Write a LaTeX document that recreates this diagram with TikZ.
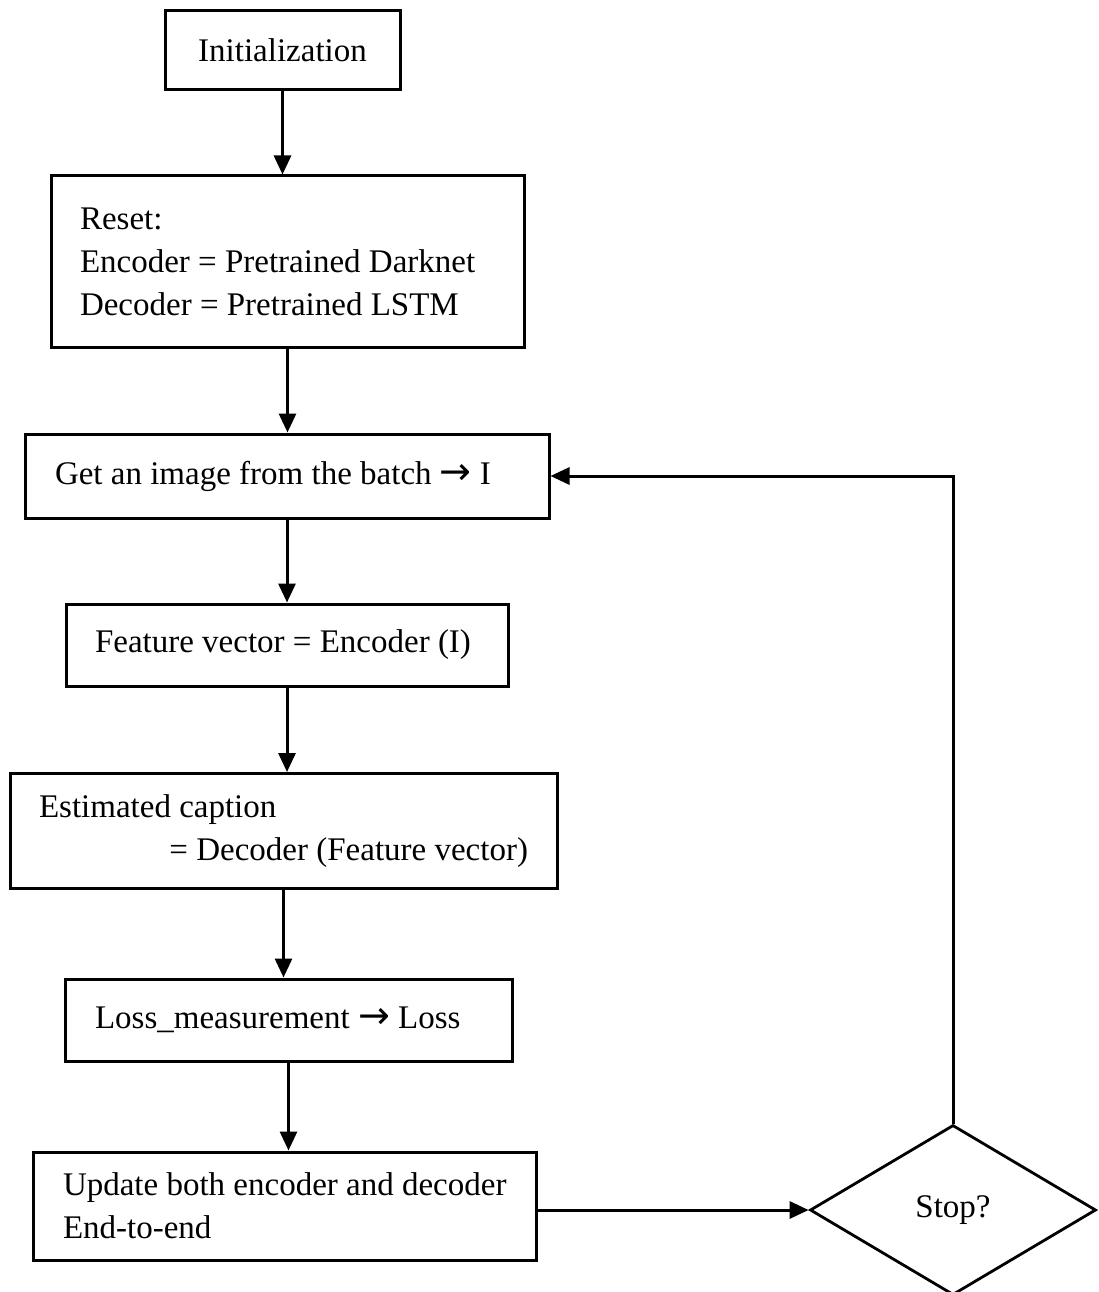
\documentclass[tikz,border=0pt]{standalone}
\usepackage{fontspec}
\setmainfont{Liberation Serif}
\newfontfamily\arrowfont{DejaVu Sans}[BoldFont=*]
\newcommand{\rarr}{{\arrowfont\bfseries\fontsize{38}{38}\selectfont →}}
% box text: 33pt serif; natural word spacing of the font
\newcommand{\boxfont}{\fontsize{33}{43}\selectfont}
\newcommand{\natspace}{\spaceskip=0pt\xspaceskip=0pt\relax}
\usetikzlibrary{shapes.geometric,arrows.meta}
\begin{document}
\begin{tikzpicture}[x=1pt,y=-1pt,
  box/.style={draw,line width=3pt,rectangle,inner ysep=0pt,font=\boxfont,
    execute at begin node=\natspace},
  flow/.style={line width=3pt,-{Triangle[length=19pt,width=17pt]}}]
\useasboundingbox (0,0) rectangle (1098,1292);

% process steps (each line kept unbroken, left-aligned inside its box)
\node[box,minimum width=235,minimum height=79] (init) at (282.5,50) {Initialization};
\node[box,minimum height=171,text width=415,inner xsep=29,align=flush left] (reset) at (287.5,261.5)
  {\mbox{Reset:}\\\mbox{Encoder = Pretrained Darknet}\\\mbox{Decoder = Pretrained LSTM}};
\node[box,minimum height=84,text width=464,inner xsep=30,align=flush left] (get) at (287,476)
  {\mbox{Get an image from the batch \rarr\ I}};
\node[box,minimum height=82,text width=384,inner xsep=29,align=flush left] (feat) at (287,645)
  {\mbox{Feature vector = Encoder (I)}};
\node[box,minimum height=115,text width=489,inner xsep=29,align=flush left] (est) at (283.5,831)
  {\mbox{Estimated caption}\\\hspace*{\fill}\mbox{= Decoder (Feature vector)}};
\node[box,minimum height=82,text width=387,inner xsep=30,align=flush left] (loss) at (288.5,1020)
  {\mbox{Loss\_measurement \rarr\ Loss}};
\node[box,minimum height=108,text width=443,inner xsep=30,align=flush left] (upd) at (284.5,1206)
  {\mbox{Update both encoder and decoder}\\\mbox{End-to-end}};

% decision
\node[diamond,draw,line width=2.8pt,minimum width=286,minimum height=170,aspect=1.68,
  inner sep=0pt,font=\boxfont] (stop) at (953,1210) {Stop?};

% connectors
\draw[flow] (init.south) -- (init.south |- reset.north);
\draw[flow] (reset.south) -- (reset.south |- get.north);
\draw[flow] (get.south) -- (get.south |- feat.north);
\draw[flow] (feat.south) -- (feat.south |- est.north);
\draw[flow] (est.south) -- (est.south |- loss.north);
\draw[flow] (loss.south) -- (loss.south |- upd.north);
\draw[flow] (upd.east |- stop) -- (stop.west);
\draw[flow] (stop.north) |- (get.east);
\end{tikzpicture}
\end{document}
